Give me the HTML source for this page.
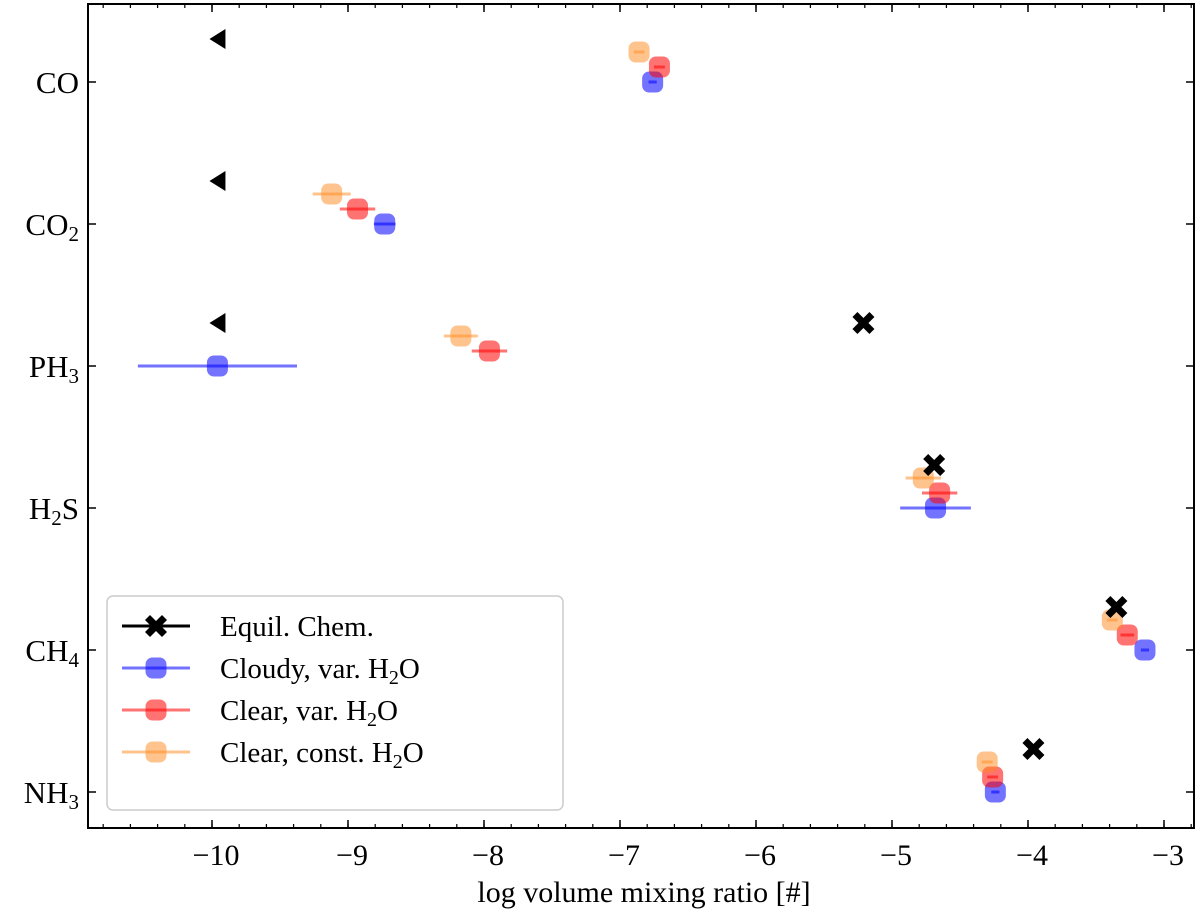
<!DOCTYPE html>
<html><head><meta charset="utf-8">
<style>
html,body{margin:0;padding:0;background:#fff;}
svg{display:block;font-family:"Liberation Serif","DejaVu Serif",serif;}
</style></head>
<body>
<svg id="chart" width="1200" height="916" xmlns="http://www.w3.org/2000/svg">
<rect x="88" y="4" width="1106" height="824" fill="none" stroke="#000" stroke-width="2"/>
<g id="marks"></g>
<g id="axes"></g>
<text x="644" y="902" text-anchor="middle" font-size="30">log volume mixing ratio [#]</text>
<g>
<rect x="107" y="596" width="456" height="214" rx="6" fill="#fff" fill-opacity="0.85" stroke="#ccc" stroke-width="1.5"/>
<g id="legend-items"></g>
</g>
</svg>
<script>
const species = ["CO","CO₂","PH₃","H₂S","CH₄","NH₃"];
const speciesSub = [["CO",""],["CO","2"],["PH","3"],["H","2","S"],["CH","4"],["NH","3"]];
const xTicks = [-10,-9,-8,-7,-6,-5,-4,-3];
const upperLimits = [-9.96,-9.96,-9.96,null,null,null];
const equilValues = [null,null,-5.21,-4.69,-3.35,-3.96];
const cloudyValues = [-6.76,-8.73,-9.96,-4.68,-3.14,-4.24];
const cloudyErr = [0.03,0.08,0.585,0.26,0.03,0.03];
const clearValues = [-6.71,-8.93,-7.96,-4.65,-3.27,-4.26];
const clearErr = [0.04,0.13,0.13,0.13,0.05,0.04];
const constValues = [-6.86,-9.12,-8.17,-4.77,-3.38,-4.30];
const constErr = [0.04,0.14,0.125,0.13,0.04,0.04];

const NS="http://www.w3.org/2000/svg";
const xs = v => 212 + (v+10)*136;
const ys = i => 82 + i*142;
function mk(tag, attrs, parent){const e=document.createElementNS(NS,tag);for(const k in attrs)e.setAttribute(k,attrs[k]);parent.appendChild(e);return e;}
const marks=document.getElementById('marks'), axes=document.getElementById('axes');

// minor ticks
for(let m=-10.8;m<=-2.3;m+=0.2){
  const x=xs(m); if(x<89||x>1193)continue;
  const a=mk('line',{x1:x,x2:x,y1:828,y2:824,stroke:'#000','stroke-width':1.2},axes);
  
  
  const b=mk('line',{x1:x,x2:x,y1:4,y2:8,stroke:'#000','stroke-width':1.2},axes);
  
  
}
xTicks.forEach(t=>{
  const x=xs(t);
  const l1=mk('line',{x1:x,x2:x,y1:828,y2:820,stroke:'#000','stroke-width':1.5},axes);
  
  
  const l2=mk('line',{x1:x,x2:x,y1:4,y2:12,stroke:'#000','stroke-width':1.5},axes);
  
  
  const tx=mk('text',{x:x+4,y:865,'text-anchor':'middle','font-size':30},axes);
  tx.textContent='−'+Math.abs(t);
  
  
});
speciesSub.forEach((p,i)=>{
  const y=ys(i);
  const l1=mk('line',{x1:88,x2:96,y1:y,y2:y,stroke:'#000','stroke-width':1.5},axes);
  
  
  const l2=mk('line',{x1:1186,x2:1194,y1:y,y2:y,stroke:'#000','stroke-width':1.5},axes);
  
  
  const tx=mk('text',{x:79,y:y+11,'text-anchor':'end','font-size':31},axes);
  
  
  mk('tspan',{},tx).textContent=p[0];
  if(p[1]){const s=mk('tspan',{'font-size':21,dy:6},tx);s.textContent=p[1];}
  if(p[2]){const s=mk('tspan',{dy:-6},tx);s.textContent=p[2];}
});

function drawSeries(vals,errs,color,op,off,name){
  vals.forEach((v,i)=>{
    if(v===null)return;
    const y=ys(i)+off, x=xs(v);
    const c=mk('rect',{x:x-10.5,y:y-10.5,width:21,height:21,rx:7,fill:color,'fill-opacity':op},marks);
    
    
    const l=mk('line',{x1:xs(v-errs[i]),x2:xs(v+errs[i]),y1:y,y2:y,stroke:color,'stroke-width':3,'stroke-opacity':op},marks);
    
    
  });
}
function xMarker(x,y,parent){
  const a=11,w=5;
  const d=`M${x-a},${y-a+w} L${x-a+w},${y-a} L${x},${y-w} L${x+a-w},${y-a} L${x+a},${y-a+w} L${x+w},${y} L${x+a},${y+a-w} L${x+a-w},${y+a} L${x},${y+w} L${x-a+w},${y+a} L${x-a},${y+a-w} L${x-w},${y} Z`;
  return mk('path',{d:d,fill:'#000'},parent);
}
drawSeries(cloudyValues,cloudyErr,'#0000ff',0.55,0,'cloudy');
drawSeries(clearValues,clearErr,'#ff0000',0.55,-15,'clear');
drawSeries(constValues,constErr,'#ff8a1e',0.5,-30,'clear-const');
equilValues.forEach((v,i)=>{
  if(v===null)return;
  const p=xMarker(xs(v),ys(i)-43,marks);
  
  
});
upperLimits.forEach((v,i)=>{
  if(v===null)return;
  const x=xs(v),y=ys(i)-43;
  const p=mk('path',{d:`M${x-8},${y} L${x+8},${y-10} L${x+8},${y+10} Z`,fill:'#000'},marks);
  
  
});

const li=document.getElementById('legend-items');
const legend=[["Equil. Chem.",'#000','x',1],["Cloudy, var. H|2|O",'#0000ff','c',0.55],["Clear, var. H|2|O",'#ff0000','c',0.55],["Clear, const. H|2|O",'#ff8a1e','c',0.5]];
legend.forEach((e,k)=>{
  const y=626+k*42;
  const g=mk('g',{},li);
  
  
  if(e[2]==='x') xMarker(156,y,g);
  else mk('rect',{x:145.5,y:y-10.5,width:21,height:21,rx:7,fill:e[1],'fill-opacity':e[3]},g);
  mk('line',{x1:122,x2:190,y1:y,y2:y,stroke:e[1],'stroke-width':3,'stroke-opacity':e[3]},g);
  const t=mk('text',{x:220,y:y+10,'font-size':29},g);
  const parts=e[0].split('|');
  mk('tspan',{},t).textContent=parts[0];
  if(parts.length>1){
    const s=mk('tspan',{'font-size':20,dy:6},t);s.textContent=parts[1];
    const r=mk('tspan',{dy:-6},t);r.textContent=parts[2];
  }
});
</script>
</body></html>
